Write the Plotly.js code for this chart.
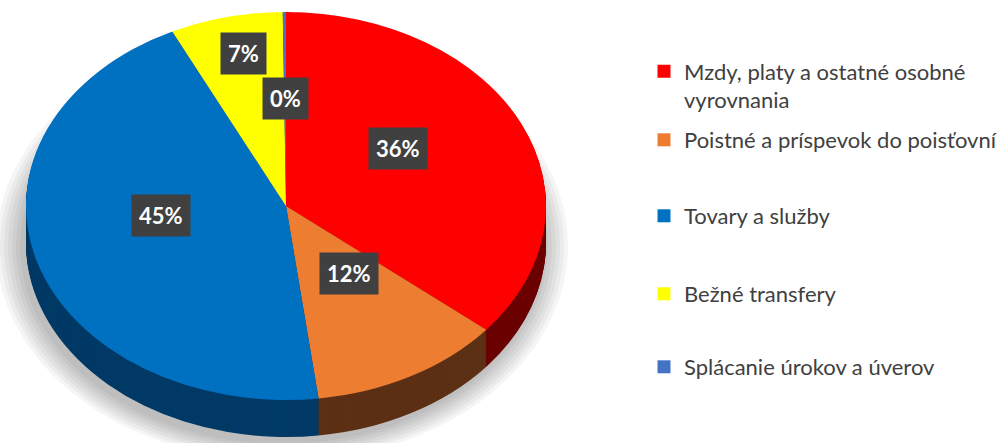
<!DOCTYPE html>
<html><head><meta charset="utf-8">
<script src="https://cdn.plot.ly/plotly-3.0.1.min.js"></script>
<style>html,body{margin:0;padding:0;background:#fff;} #chart{width:1003px;height:443px;}</style>
</head><body><div id="chart"></div>
<script>
// ---- data ----
const categories = ['Mzdy, platy a ostatné osobné vyrovnania', 'Poistné a príspevok do poisťovní', 'Tovary a služby', 'Bežné transfery', 'Splácanie úrokov a úverov'];
const legendLabels = ['Mzdy, platy a ostatné osobné<br>vyrovnania', 'Poistné a príspevok do poisťovní', 'Tovary a služby', 'Bežné transfery', 'Splácanie úrokov a úverov'];
const shares = [36.0, 12.0, 44.8, 7.0, 0.2];
const topColors = ['#FF0000', '#ED7D31', '#0070C0', '#FFFF00', '#4472C4'];
const sideColors = ['#6C0000', '#5C3015', '#003A66', '#7F7F00', '#22395F'];

// ---- geometry / style ----
const W = 1003, H = 443;
const CX = 286, CY = 206, RX = 260, RY = 194, DEPTH = 37, STEP = 1;
const LABEL_CX = 286, LABEL_CY = 188, LABEL_RX = 260, LABEL_RY = 194;
const labelFrac = [0.475, 0.5, 0.5, 0.71, 0.46];
const legendCenters = [86, 140, 216, 294, 367];
const R0 = 190;
const domain = {x: [(CX - R0) / W, (CX + R0) / W], y: [(H - CY - R0) / H, (H - CY + R0) / H]};

const traces = [];
const offsets = [];
for (let d = DEPTH; d >= STEP; d -= STEP) {
  traces.push({type: 'pie', labels: categories, values: shares, sort: false, direction: 'clockwise', rotation: 0,
    marker: {colors: sideColors, line: {width: 0}}, textinfo: 'none', hoverinfo: 'skip', showlegend: false, domain: domain});
  offsets.push(d);
}
traces.push({type: 'pie', labels: categories, values: shares, sort: false, direction: 'clockwise', rotation: 0,
  marker: {colors: topColors, line: {width: 0}}, textinfo: 'none', hoverinfo: 'skip', showlegend: false, domain: domain});
offsets.push(0);

const legends = {};
categories.forEach((c, i) => {
  const key = i === 0 ? 'legend' : 'legend' + (i + 1);
  traces.push({type: 'scatter', x: [null], y: [null], mode: 'markers', name: legendLabels[i],
    marker: {symbol: 'square', size: 13, color: topColors[i]}, legend: key, hoverinfo: 'skip', showlegend: true});
  legends[key] = {x: 644 / W, xanchor: 'left', y: 1 - legendCenters[i] / H, yanchor: 'middle',
    font: {family: 'Lato, "Open Sans", sans-serif', size: 22, color: '#404040'},
    bgcolor: 'rgba(0,0,0,0)', valign: 'top', borderwidth: 0};
});

const total = shares.reduce((a, b) => a + b, 0);
let cum = 0;
const annotations = shares.map((v, i) => {
  const theta = 2 * Math.PI * (cum + v / 2) / total;
  cum += v;
  const px = LABEL_CX + labelFrac[i] * LABEL_RX * Math.sin(theta);
  const py = LABEL_CY - labelFrac[i] * LABEL_RY * Math.cos(theta);
  return {xref: 'paper', yref: 'paper', x: px / W, y: 1 - py / H, xanchor: 'center', yanchor: 'middle',
    showarrow: false, text: '<b>' + Math.round(v / total * 100) + '%</b>',
    font: {family: 'Lato, "Open Sans", sans-serif', size: 22, color: '#FFFFFF'},
    bgcolor: '#404040', borderpad: 7};
});

const shapes = [];
for (let k = 0; k < 7; k++) {
  const rx = 262 + k * 4, ry = 198 + k * 3, cy = 246;
  shapes.push({type: 'circle', xref: 'paper', yref: 'paper', layer: 'below',
    x0: (282 - rx) / W, x1: (282 + rx) / W, y0: 1 - (cy + ry) / H, y1: 1 - (cy - ry) / H,
    fillcolor: 'rgba(0,0,0,0.04)', line: {width: 0}});
}

const layout = Object.assign({
  width: W, height: H, margin: {l: 0, r: 0, t: 0, b: 0},
  paper_bgcolor: '#FFFFFF', plot_bgcolor: 'rgba(0,0,0,0)',
  xaxis: {visible: false}, yaxis: {visible: false},
  annotations: annotations, shapes: shapes, showlegend: true
}, legends);

const gd = document.getElementById('chart');
Plotly.newPlot(gd, traces, layout, {staticPlot: true}).then(() => {
  const groups = gd.querySelectorAll('.pielayer > g.trace');
  const pieCd = gd.calcdata.filter(cd => cd[0] && cd[0].trace && cd[0].trace.type === 'pie');
  groups.forEach((g, i) => {
    const cd0 = pieCd[i][0];
    const sx = RX / cd0.r, sy = RY / cd0.r;
    g.setAttribute('transform', 'translate(' + CX + ',' + (CY + offsets[i]) + ') scale(' + sx + ',' + sy + ') translate(' + (-cd0.cx) + ',' + (-cd0.cy) + ')');
  });
});
</script>
</body></html>
